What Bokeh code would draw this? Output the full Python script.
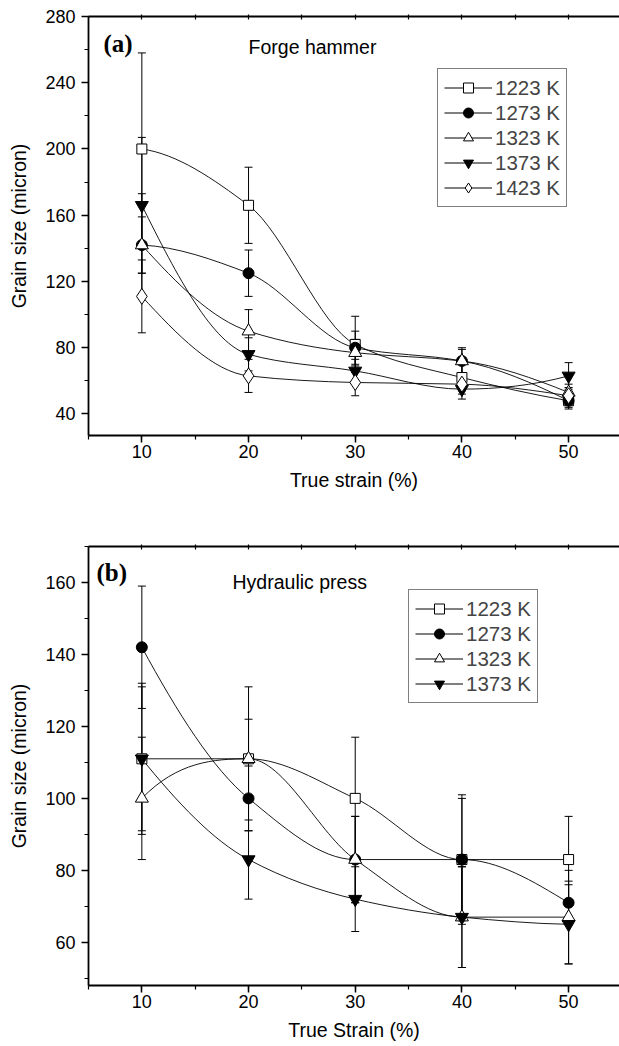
import numpy as np
from bokeh.plotting import figure
from bokeh.models import (LinearAxis, Whisker, TeeHead, ColumnDataSource, Legend,
                          LegendItem, Label, SingleIntervalTicker, FixedTicker, Range1d)
from bokeh.layouts import column
from bokeh.embed import file_html
from bokeh.resources import INLINE

# ---------------- data ----------------
strain = [10, 20, 30, 40, 50]
strain_minor = [10, 15, 20, 25, 30, 35, 40, 45, 50]

# (a) Forge hammer
fh_labels = ["1223 K", "1273 K", "1323 K", "1373 K", "1423 K"]
fh_1223 = [200, 166, 82, 62, 48]
fh_1273 = [142, 125, 80, 72, 48]
fh_1323 = [142, 90, 77, 72, 53]
fh_1373 = [166, 76, 66, 55, 63]
fh_1423 = [111, 63, 59, 58, 51]
fh_err_1223 = [58, 23, 17, 8, 4]
fh_err_1273 = [31, 14, 10, 7, 5]
fh_err_1323 = [17, 13, 8, 8, 5]
fh_err_1373 = [41, 10, 7, 6, 8]
fh_err_1423 = [22, 10, 8, 6, 5]

# (b) Hydraulic press
hp_labels = ["1223 K", "1273 K", "1323 K", "1373 K"]
hp_1223 = [111, 111, 100, 83, 83]
hp_1273 = [142, 100, 83, 83, 71]
hp_1323 = [100, 111, 83, 67, 67]
hp_1373 = [111, 83, 72, 67, 65]
hp_err_1223 = [21, 20, 17, 17, 12]
hp_err_1273 = [17, 9, 12, 18, 6]
hp_err_1323 = [17, 11, 12, 14, 13]
hp_err_1373 = [20, 11, 9, 14, 11]

# marker styles per temperature
STYLES = {
    "1223 K": dict(marker="square", size=10, fill="white"),
    "1273 K": dict(marker="circle", size=11, fill="black"),
    "1323 K": dict(marker="triangle", size=13, fill="white"),
    "1373 K": dict(marker="inverted_triangle", size=13, fill="black"),
    "1423 K": dict(marker="diamond", size=16, fill="white"),
}

FONT = "Liberation Sans"


def pchip_bezier(xs, ys):
    """Monotone cubic (PCHIP) spline through the data, expressed as Bezier segments."""
    x = np.asarray(xs, float)
    y = np.asarray(ys, float)
    h = np.diff(x)
    d = np.diff(y) / h
    n = len(x)
    m = np.zeros(n)
    for k in range(1, n - 1):
        if d[k - 1] * d[k] > 0:
            w1 = 2 * h[k] + h[k - 1]
            w2 = h[k] + 2 * h[k - 1]
            m[k] = (w1 + w2) / (w1 / d[k - 1] + w2 / d[k])

    def edge(h0, h1, d0, d1):
        e = ((2 * h0 + h1) * d0 - h0 * d1) / (h0 + h1)
        if np.sign(e) != np.sign(d0):
            e = 0.0
        elif np.sign(d0) != np.sign(d1) and abs(e) > abs(3 * d0):
            e = 3 * d0
        return e

    m[0] = edge(h[0], h[1], d[0], d[1])
    m[-1] = edge(h[-1], h[-2], d[-1], d[-2])
    return dict(x0=x[:-1], y0=y[:-1], x1=x[1:], y1=y[1:],
                cx0=x[:-1] + h / 3, cy0=y[:-1] + m[:-1] * h / 3,
                cx1=x[1:] - h / 3, cy1=y[1:] - m[1:] * h / 3)


def style_axis(ax, tick_out=7, minor_out=4):
    ax.axis_line_width = 1.8
    ax.axis_line_color = "black"
    ax.major_tick_line_width = 1.5
    ax.minor_tick_line_width = 1.2
    ax.major_tick_line_color = "black"
    ax.minor_tick_line_color = "black"
    ax.major_tick_out = tick_out
    ax.major_tick_in = 0
    ax.minor_tick_out = minor_out
    ax.minor_tick_in = 0
    ax.major_label_text_font = FONT
    ax.major_label_text_font_size = "18px"
    ax.major_label_text_color = "black"
    ax.axis_label_text_font = FONT
    ax.axis_label_text_font_size = "19.5px"
    ax.axis_label_text_font_style = "normal"
    ax.axis_label_text_color = "black"


def make_panel(height, border_top, border_bottom, y0, y1, ystep, xlabel,
               labels, series, errors, tag, tag_xy, title, title_xy, legend_loc):
    p = figure(width=619, height=height,
               x_range=Range1d(5, 54.77), y_range=Range1d(y0, y1),
               output_backend="svg", toolbar_location=None,
               min_border_left=88, min_border_right=0,
               min_border_top=border_top, min_border_bottom=border_bottom,
               x_axis_label=xlabel, y_axis_label="Grain size (micron)")
    p.grid.visible = False
    p.outline_line_color = None
    p.background_fill_color = "white"
    p.border_fill_color = "white"

    p.xaxis.ticker = SingleIntervalTicker(interval=10, num_minor_ticks=2)
    p.yaxis.ticker = SingleIntervalTicker(interval=ystep, num_minor_ticks=2)
    for ax in p.xaxis:
        style_axis(ax)
        ax.major_label_standoff = 2
        ax.axis_label_standoff = 8
    for ax in p.yaxis:
        style_axis(ax)
        ax.major_label_standoff = 6
        ax.axis_label_standoff = 12

    # top frame line with small unlabelled ticks
    top = LinearAxis(ticker=FixedTicker(ticks=[], minor_ticks=strain_minor))
    style_axis(top, tick_out=0, minor_out=2)
    top.minor_tick_in = 3
    top.major_label_standoff = 0
    p.add_layout(top, "above")

    items = []
    # error bars
    for lab, ys, es in zip(labels, series, errors):
        src = ColumnDataSource(dict(x=strain,
                                    upper=[v + e for v, e in zip(ys, es)],
                                    lower=[v - e for v, e in zip(ys, es)]))
        w = Whisker(base="x", upper="upper", lower="lower", source=src,
                    dimension="height", line_color="black", line_width=1,
                    upper_head=TeeHead(size=8, line_width=1, line_color="black"),
                    lower_head=TeeHead(size=8, line_width=1, line_color="black"))
        p.add_layout(w)
    # smooth connecting curves
    for lab, ys in zip(labels, series):
        bz = pchip_bezier(strain, ys)
        p.bezier(source=ColumnDataSource(bz), x0="x0", y0="y0", x1="x1", y1="y1",
                 cx0="cx0", cy0="cy0", cx1="cx1", cy1="cy1",
                 line_color="black", line_width=0.9)
    # markers
    for lab, ys in zip(labels, series):
        st = STYLES[lab]
        src = ColumnDataSource(dict(x=strain, y=ys))
        ln = p.line("x", "y", source=src, line_color="black", line_width=1)
        ln.visible = False
        sc = p.scatter("x", "y", source=src, marker=st["marker"], size=st["size"],
                       fill_color=st["fill"], line_color="black", line_width=1)
        items.append(LegendItem(label=lab, renderers=[ln, sc]))

    leg = Legend(items=items, location=legend_loc)
    leg.border_line_color = "black"
    leg.border_line_width = 1
    leg.background_fill_color = "white"
    leg.background_fill_alpha = 1
    leg.padding = 6
    leg.spacing = 0
    leg.margin = 0
    leg.glyph_height = 25
    leg.glyph_width = 48
    leg.label_height = 25
    leg.label_standoff = 3
    leg.label_text_font = FONT
    leg.label_text_font_size = "20.5px"
    leg.label_text_baseline = "middle"
    p.add_layout(leg)

    p.add_layout(Label(x=tag_xy[0], y=tag_xy[1], text=tag, text_font="Liberation Serif",
                       text_font_style="bold", text_font_size="25px",
                       text_baseline="middle", text_color="black"))
    p.add_layout(Label(x=title_xy[0], y=title_xy[1], text=title, text_font=FONT,
                       text_font_size="19.5px", text_baseline="middle",
                       text_color="black"))
    return p


p1 = make_panel(515, 16, 80, 27, 280, 40, "True strain (%)", fh_labels,
                [fh_1223, fh_1273, fh_1323, fh_1373, fh_1423],
                [fh_err_1223, fh_err_1273, fh_err_1323, fh_err_1373, fh_err_1423],
                "(a)", (6.4, 263.7), "Forge hammer", (20.0, 261.4), (349, 228))

p2 = make_panel(531, 31, 61, 48, 170, 20, "True Strain (%)", hp_labels,
                [hp_1223, hp_1273, hp_1323, hp_1373],
                [hp_err_1223, hp_err_1273, hp_err_1323, hp_err_1373],
                "(b)", (5.75, 162.9), "Hydraulic press", (18.5, 160.1), (320, 282))

layout = column(p1, p2, spacing=0)
open("out.html", "w").write(file_html(layout, INLINE))
